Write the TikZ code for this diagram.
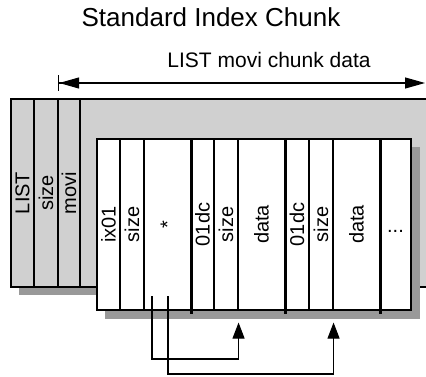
\documentclass[tikz,border=0pt]{standalone}
\usepackage{fontspec}
\setmainfont{Liberation Sans}
\usetikzlibrary{arrows.meta}
\usetikzlibrary{calc}
\definecolor{boxgrey}{HTML}{D0D0D0}
\definecolor{shadegrey}{HTML}{999999}
\tikzset{
  field/.style={draw, line width=1.1pt, inner sep=0pt, rotate=90, font=\fontsize{20}{24}\selectfont},
  listfield/.style={field, fill=boxgrey, minimum width=188pt},
  idxfield/.style={field, fill=white, minimum width=171pt},
  divider/.style={line width=2.4pt},
  pointer/.style={line width=1.1pt, -{Triangle[length=16pt,width=12pt]}},
  span/.style={line width=1.2pt, {Bar[width=16pt]Triangle[length=20pt,width=11pt]}-{Triangle[length=20pt,width=11pt]}}
}

\begin{document}
\begin{tikzpicture}[x=1pt, y=-1pt]
\useasboundingbox (0,0) rectangle (426,377);
\clip (0,0) rectangle (426,377);

\node[font=\fontsize{26}{30}\selectfont, anchor=base] (title) at (211,27) {Standard Index Chunk};
\node[font=\fontsize{21}{25}\selectfont, anchor=base] (listdata) at (269,68) {LIST movi chunk data};
\coordinate (from) at (58,83);
\coordinate (to) at (425,83);
\draw[span] (from) -- (to);

% LIST chunk
\fill[shadegrey] (19,107) rectangle (420,295);
\draw[line width=1.1pt, fill=boxgrey] (11,99) rectangle (440,287);
\node[listfield, minimum height=23pt] (list) at (22.5,193) {LIST};
\node[listfield, minimum height=24pt] (lsize) at (46,193) {size};
\node[listfield, minimum height=22pt] (movi) at (69,193) {movi};
\draw[line width=1.8pt] (list.south east) -- (list.south west);
\draw[line width=1.8pt] (lsize.south east) -- (lsize.south west);

% index chunk and data
\fill[shadegrey] (105,147) rectangle (420,319);
\node[idxfield, minimum height=23pt] (ix) at (108.5,224.5) {ix01};
\node[idxfield, minimum height=24pt] (isize) at (132,224.5) {size};
\node[idxfield, minimum height=47pt] (star) at (167.5,224.5) {*};
\node[idxfield, minimum height=23pt] (dc1) at (202.5,224.5) {01dc};
\node[idxfield, minimum height=24pt] (size1) at (226,224.5) {size};
\node[idxfield, minimum height=47pt] (data1) at (261.5,224.5) {data};
\node[idxfield, minimum height=24pt] (dc2) at (297,224.5) {01dc};
\node[idxfield, minimum height=24pt] (size2) at (321,224.5) {size};
\node[idxfield, minimum height=47pt] (data2) at (356.5,224.5) {data};
\node[draw, line width=1.1pt, fill=white, inner sep=0pt, minimum width=31pt, minimum height=171pt] (tail) at (395.5,224.5) {};
\node[font=\fontsize{20}{24}\selectfont, anchor=base] (more) at ($(tail.center)+(0,8.5)$) {...};

\draw[divider] (star.south east) -- ([yshift=-3pt]star.south west);
\draw[divider] (data1.south east) -- ([yshift=-3pt]data1.south west);
\draw[divider] (data2.south east) -- ([yshift=-3pt]data2.south west);

\coordinate (p1) at (152,296);
\coordinate (p2) at (168,296);
\coordinate (t1) at ($(size1.south west)+(0,12)$);
\coordinate (t2) at ($(size2.south west)+(0,12)$);
\draw[pointer] (p1) -- ++(0,63) -| (t1);
\draw[pointer] (p2) -- ++(0,78) -| (t2);
\end{tikzpicture}
\end{document}
